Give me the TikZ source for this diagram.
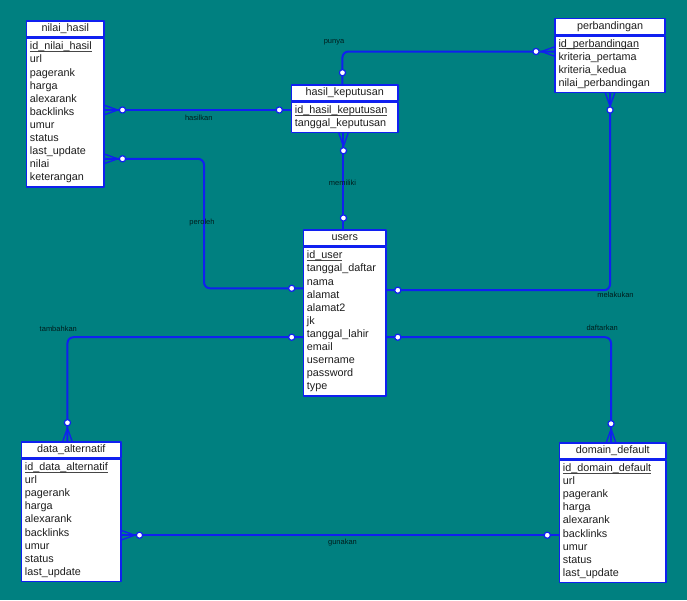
\documentclass[tikz,border=0pt]{standalone}
\usepackage{fontspec}
\setmainfont{Liberation Sans}
\usetikzlibrary{calc}
\usetikzlibrary{positioning}

\definecolor{bgteal}{RGB}{0,128,128}
\definecolor{erblue}{RGB}{16,32,240}
\definecolor{rowtext}{RGB}{30,30,30}
\definecolor{keyline}{RGB}{70,70,70}
\definecolor{reltext}{RGB}{0,28,28}

% primary key: underline at the level of the underscores
\newcommand{\pkey}[1]{\setbox0\hbox{#1}\rlap{\textcolor{keyline}{\rule[-1.9pt]{\wd0}{0.9pt}}}\box0}

\tikzset{
  tblhead/.style={draw=erblue, fill=white, line width=1.5pt, inner sep=0pt,
    minimum height=16pt, text=rowtext, font=\fontsize{10.8}{13.1}\selectfont},
  tblbody/.style={draw=erblue, fill=white, line width=1.5pt, inner xsep=3.5pt,
    inner ysep=2.1pt, align=left, text=rowtext, font=\fontsize{10.8}{13.1}\selectfont,
    execute at begin node=\strut, execute at end node=\strut},
  rel/.style={draw=erblue, line width=2pt, rounded corners=6pt},
  crow/.style={draw=erblue, line width=1.3pt},
  optional/.style={circle, draw=erblue, fill=white, line width=1.2pt, inner sep=0pt,
    minimum size=6.2pt},
  rellabel/.style={text=reltext, inner sep=0pt, font=\fontsize{7.5}{8}\selectfont},
  crowfoot/.pic={\draw[crow] (13,0) -- (0,-4.6) (13,0) -- (0,4.6);}
}

\begin{document}
\begin{tikzpicture}[x=1pt, y=-1pt, line cap=round, line join=round]
  \fill[bgteal] (0,0) rectangle (687,600);
  %--- nilai_hasil
  \node[tblhead, anchor=north west, minimum width=77.6pt] (nilaihasil) at (25.7,20.3) {nilai\_hasil};
  \node[tblbody, below=0pt of nilaihasil, text width=70.6pt] (nilaihasil-b)
    {\pkey{id\_nilai\_hasil}\\url\\pagerank\\harga\\alexarank\\backlinks\\umur\\status\\last\_update\\nilai\\keterangan};
  %--- hasil_keputusan
  \node[tblhead, anchor=north west, minimum width=106.6pt] (hasilkep) at (290.7,84) {hasil\_keputusan};
  \node[tblbody, below=0pt of hasilkep, text width=99.6pt] (hasilkep-b)
    {\pkey{id\_hasil\_keputusan}\\tanggal\_keputusan};
  %--- perbandingan
  \node[tblhead, anchor=north west, minimum width=110pt] (perband) at (554.3,17.7) {perbandingan};
  \node[tblbody, below=0pt of perband, text width=103pt] (perband-b)
    {\pkey{id\_perbandingan}\\kriteria\_pertama\\kriteria\_kedua\\nilai\_perbandingan};
  %--- users
  \node[tblhead, anchor=north west, minimum width=82.6pt] (users) at (302.7,229.3) {users};
  \node[tblbody, below=0pt of users, text width=75.6pt] (users-b)
    {\pkey{id\_user}\\tanggal\_daftar\\nama\\alamat\\alamat2\\jk\\tanggal\_lahir\\email\\username\\password\\type};
  %--- data_alternatif
  \node[tblhead, anchor=north west, minimum width=99.6pt] (dataalt) at (20.7,441) {data\_alternatif};
  \node[tblbody, below=0pt of dataalt, text width=92.6pt] (dataalt-b)
    {\pkey{id\_data\_alternatif}\\url\\pagerank\\harga\\alexarank\\backlinks\\umur\\status\\last\_update};
  %--- domain_default
  \node[tblhead, anchor=north west, minimum width=106.6pt] (domdef) at (558.7,442) {domain\_default};
  \node[tblbody, below=0pt of domdef, text width=99.6pt] (domdef-b)
    {\pkey{id\_domain\_default}\\url\\pagerank\\harga\\alexarank\\backlinks\\umur\\status\\last\_update};

  %--- hasilkan
  \coordinate (hk-in) at ($(hasilkep-b.north west)+(0,8.5)$);
  \coordinate (hk-out) at (nilaihasil-b.east |- hk-in);
  \draw[rel] (hk-out) -- (hk-in);
  \pic at (hk-out) {crowfoot};
  \node[optional] (hk-o1) at ($(hk-out)+(17.7,0)$) {};
  \node[optional] (hk-o2) at ($(hk-in)+(-11.4,0)$) {};
  \node[rellabel] (hk-l) at (198.8,118.3) {hasilkan};
  %--- peroleh
  \coordinate (pr-out) at ($(nilaihasil-b.north east)+(0,121)$);
  \coordinate (pr-in) at ($(users-b.north west)+(0,41.5)$);
  \draw[rel] (pr-out) -| ($(pr-in)+(-98.7,0)$) -- (pr-in);
  \pic at (pr-out) {crowfoot};
  \node[optional] (pr-o1) at ($(pr-out)+(17.7,0)$) {};
  \node[optional] (pr-o2) at ($(pr-in)+(-11,0)$) {};
  \node[rellabel] (pr-l) at (202,222.3) {peroleh};
  %--- punya
  \coordinate (py-out) at ($(hasilkep.north)+(-2.3,0)$);
  \coordinate (py-in) at ($(perband-b.north west)+(0,16.3)$);
  \draw[rel] (py-out) |- (py-in);
  \pic[rotate=180] at (py-in) {crowfoot};
  \node[optional] (py-o1) at ($(py-out)+(0,-11.3)$) {};
  \node[optional] (py-o2) at ($(py-in)+(-18.3,0)$) {};
  \node[rellabel] (py-l) at (334,42.7) {punya};
  %--- memiliki
  \coordinate (mm-out) at ($(hasilkep-b.south)+(-1.3,0)$);
  \coordinate (mm-in) at (mm-out |- users.north);
  \draw[rel] (mm-out) -- (mm-in);
  \pic[rotate=-90] at (mm-out) {crowfoot};
  \node[optional] (mm-o1) at ($(mm-out)+(0,17.3)$) {};
  \node[optional] (mm-o2) at ($(mm-in)+(0,-11.3)$) {};
  \node[rellabel] (mm-l) at (342.5,183.3) {memiliki};
  %--- melakukan
  \coordinate (mk-in) at ($(users-b.north east)+(0,43.4)$);
  \draw[rel] (perband-b.south) |- (mk-in);
  \pic[rotate=-90] at (perband-b.south) {crowfoot};
  \node[optional] (mk-o1) at ($(perband-b.south)+(0,16.7)$) {};
  \node[optional] (mk-o2) at ($(mk-in)+(11,0)$) {};
  \node[rellabel] (mk-l) at (615.5,295.3) {melakukan};
  %--- tambahkan
  \coordinate (tb-out) at ($(users-b.north west)+(0,90.4)$);
  \coordinate (tb-in) at ($(dataalt.north)+(-3.8,0)$);
  \draw[rel] (tb-out) -| (tb-in);
  \pic[rotate=90] at (tb-in) {crowfoot};
  \node[optional] (tb-o1) at ($(tb-out)+(-11,0)$) {};
  \node[optional] (tb-o2) at ($(tb-in)+(0,-18.3)$) {};
  \node[rellabel] (tb-l) at (58.3,328.5) {tambahkan};
  %--- daftarkan
  \coordinate (df-out) at ($(users-b.north east)+(0,90.4)$);
  \coordinate (df-in) at ($(domdef.north)+(-1.7,0)$);
  \draw[rel] (df-out) -| (df-in);
  \pic[rotate=90] at (df-in) {crowfoot};
  \node[optional] (df-o1) at ($(df-out)+(11,0)$) {};
  \node[optional] (df-o2) at ($(df-in)+(0,-18.3)$) {};
  \node[rellabel] (df-l) at (602.2,328.3) {daftarkan};
  %--- gunakan
  \coordinate (gk-out) at ($(dataalt-b.north east)+(0,76.7)$);
  \coordinate (gk-in) at (gk-out -| domdef-b.west);
  \draw[rel] (gk-out) -- (gk-in);
  \pic at (gk-out) {crowfoot};
  \node[optional] (gk-o1) at ($(gk-out)+(17.7,0)$) {};
  \node[optional] (gk-o2) at ($(gk-in)+(-11.4,0)$) {};
  \node[rellabel] (gk-l) at (342.5,542.7) {gunakan};
\end{tikzpicture}
\end{document}
